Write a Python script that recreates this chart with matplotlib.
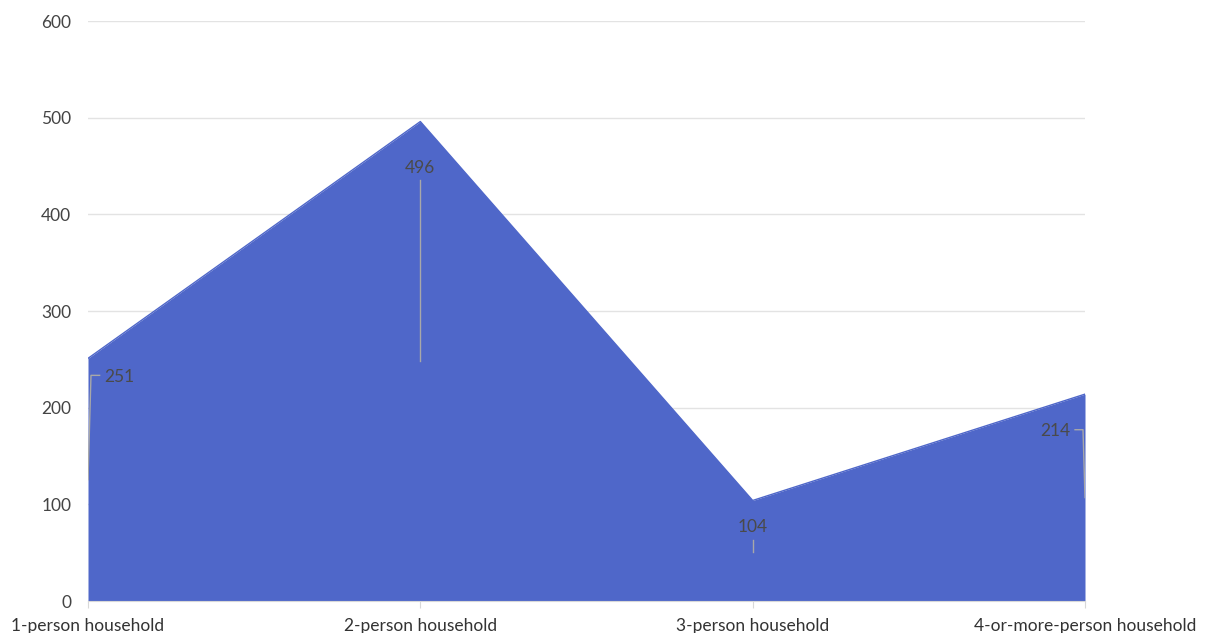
import numpy as np
import matplotlib.pyplot as plt

plt.rcParams['font.family'] = ['Lato', 'DejaVu Sans']

categories = ['1-person household', '2-person household', '3-person household', '4-or-more-person household']
values = [251, 496, 104, 214]
yticks = [0, 100, 200, 300, 400, 500, 600]

fill_color = '#4F67C9'
x = np.arange(len(categories))

fig = plt.figure(figsize=(12.08, 6.33), dpi=100)
ax = fig.add_axes([88 / 1208, 32 / 633, (1085 - 88) / 1208, (601 - 21) / 633])

ax.fill_between(x, values, 0, color=fill_color, linewidth=0, zorder=2)
ax.plot(x, values, color=fill_color, linewidth=1, zorder=2)

ax.set_xlim(x[0], x[-1])
ax.set_ylim(0, 600)
ax.set_yticks(yticks)
ax.set_xticks(x)
ax.set_xticklabels(categories)
ax.grid(axis='y', color='#e3e3e3', linewidth=1, zorder=0)
for s in ['top', 'right', 'left']:
    ax.spines[s].set_visible(False)
ax.spines['bottom'].set_color('#d8d8d8')
ax.tick_params(axis='y', length=0, pad=12, labelsize=12.5, labelcolor='#444444')
ax.tick_params(axis='x', length=5, color='#d8d8d8', pad=7, labelsize=12.5, labelcolor='#333333')

# data labels with leader lines from the middle of the area
lc = '#a8a8a8'
lab = dict(fontsize=12.5, color='#4a4a4a', zorder=4)
# 1-person: line bends to the right
v = values[0]
ax.plot([x[0], x[0] + 0.009, x[0] + 0.035], [v / 2, v * 0.93, v * 0.93], color=lc, lw=1, zorder=3)
ax.text(x[0] + 0.05, v * 0.925, str(v), va='center', ha='left', **lab)
# 2-person: straight up
v = values[1]
ax.plot([x[1], x[1]], [v / 2, v * 0.878], color=lc, lw=1, zorder=3)
ax.text(x[1], v * 0.903, str(v), va='center', ha='center', **lab)
# 3-person: short tick below label
v = values[2]
ax.plot([x[2], x[2]], [v * 0.49, v * 0.61], color=lc, lw=1, zorder=3)
ax.text(x[2], v * 0.74, str(v), va='center', ha='center', **lab)
# 4-or-more: line bends to the left
v = values[3]
ax.plot([x[3], x[3] - 0.006, x[3] - 0.03], [v / 2, v * 0.828, v * 0.828], color=lc, lw=1, zorder=3)
ax.text(x[3] - 0.045, v * 0.823, str(v), va='center', ha='right', **lab)

fig.savefig('out.png', dpi=100)
